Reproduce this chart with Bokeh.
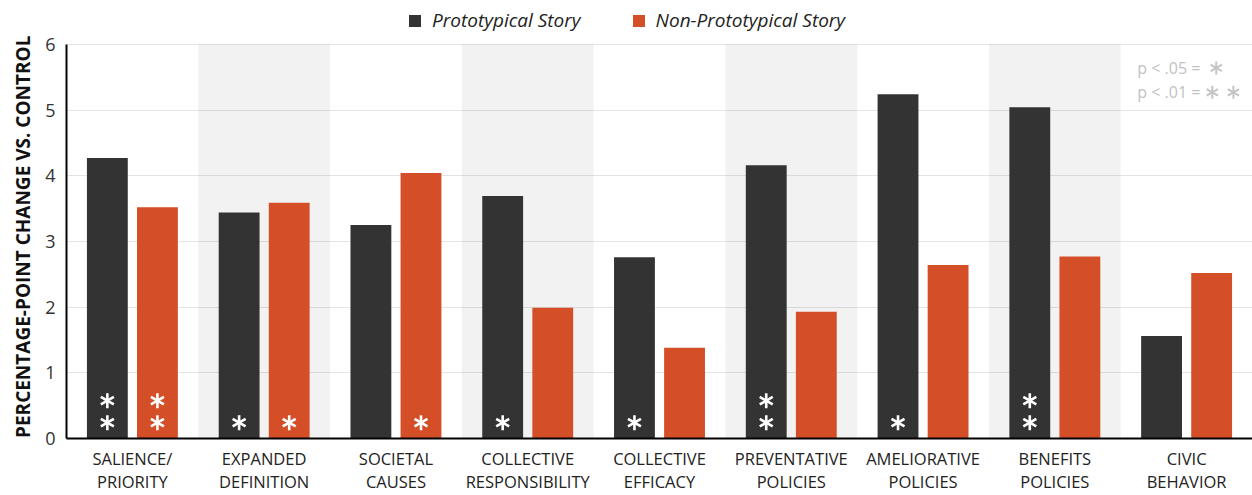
from bokeh.plotting import figure
from bokeh.models import (ColumnDataSource, Range1d, FixedTicker, BoxAnnotation,
                          Legend, LegendItem)
from bokeh.core.properties import value
from bokeh.embed import file_html
from bokeh.resources import INLINE

categories = ["SALIENCE/\nPRIORITY", "EXPANDED\nDEFINITION", "SOCIETAL\nCAUSES",
              "COLLECTIVE\nRESPONSIBILITY", "COLLECTIVE\nEFFICACY", "PREVENTATIVE\nPOLICIES",
              "AMELIORATIVE\nPOLICIES", "BENEFITS\nPOLICIES", "CIVIC\nBEHAVIOR"]
prototypical = [4.27, 3.44, 3.25, 3.69, 2.76, 4.16, 5.24, 5.04, 1.56]
non_prototypical = [3.52, 3.59, 4.04, 1.99, 1.38, 1.93, 2.64, 2.77, 2.52]
sig_proto = ["**", "*", "", "*", "*", "**", "*", "**", ""]
sig_non = ["**", "*", "*", "", "", "", "", "", ""]
y_ticks = [0, 1, 2, 3, 4, 5, 6]
series_names = ["Prototypical Story", "Non-Prototypical Story"]
key_labels = ["p < .05 =", "p < .01 ="]
y_title = "PERCENTAGE-POINT CHANGE VS. CONTROL"

DARK = "#333333"
ORANGE = "#d44f27"
FONT = "Open Sans"

n = len(categories)
xc = [i + 0.5 for i in range(n)]
OFF = 0.19
W = 0.31
Y_MAX = 6
Y_TOP = Y_MAX * 440 / 396   # headroom inside the frame for the legend

p = figure(width=1252, height=495, output_backend="svg", toolbar_location=None,
           x_range=Range1d(0, n), y_range=Range1d(0, Y_TOP),
           min_border_left=66, min_border_right=0, min_border_top=0, min_border_bottom=55)
p.outline_line_color = None
p.background_fill_color = "white"
p.border_fill_color = "white"

# alternating shaded bands
for i in range(1, n, 2):
    p.add_layout(BoxAnnotation(left=i, right=i + 1, bottom=0, top=Y_MAX,
                               fill_color="black", fill_alpha=0.05,
                               line_color=None, level="underlay"))

src = ColumnDataSource(dict(x1=[x - OFF for x in xc], x2=[x + OFF for x in xc],
                            a=prototypical, b=non_prototypical))
r1 = p.vbar(x="x1", top="a", width=W, bottom=0, source=src, fill_color=DARK, line_color=None)
r2 = p.vbar(x="x2", top="b", width=W, bottom=0, source=src, fill_color=ORANGE, line_color=None)

# significance asterisks (6-spoke made from three rotated dashes)
def star_points(sigs, xs):
    px, py = [], []
    for s, x in zip(sigs, xs):
        if len(s) >= 1:
            px.append(x); py.append(0.24)
        if len(s) >= 2:
            px.append(x); py.append(0.575)
    return px, py

def draw_star(px, py, color, size=15, lw=2.6):
    for ang in (90, 30, -30):
        p.scatter(px, py, marker="dash", size=size, angle=ang, angle_units="deg",
                  line_color=color, line_width=lw)

ax, ay = star_points(sig_proto, src.data["x1"])
bx, by = star_points(sig_non, src.data["x2"])
draw_star(ax + bx, ay + by, "white")

# p-value key
p.text(x=[8.126, 8.126], y=[5.64, 5.27], text=key_labels,
       text_font=value(FONT), text_font_size="16px", text_color="#c2c2c2",
       text_baseline="middle", text_align="left")
draw_star([8.725, 8.695, 8.855], [5.64, 5.27, 5.27], "#c4c4c4", size=13, lw=2.0)

# axes
p.xaxis.ticker = FixedTicker(ticks=xc)
p.xaxis.major_label_overrides = {x: c for x, c in zip(xc, categories)}
p.xaxis.major_label_text_font = FONT
p.xaxis.major_label_text_font_size = "16.5px"
p.xaxis.major_label_text_color = "#222222"
p.xaxis.major_label_text_line_height = 1.0
p.xaxis.major_label_standoff = 2
p.xaxis.major_tick_line_color = None
p.xaxis.minor_tick_line_color = None
p.xaxis.axis_line_color = "black"
p.xaxis.axis_line_width = 2

p.yaxis.ticker = FixedTicker(ticks=y_ticks)
p.yaxis.bounds = (0, Y_MAX)
p.yaxis.major_label_text_font = FONT
p.yaxis.major_label_text_font_size = "18px"
p.yaxis.major_label_text_color = "#333333"
p.yaxis.major_label_standoff = 5
p.yaxis.major_tick_line_color = None
p.yaxis.minor_tick_line_color = None
p.yaxis.axis_line_color = "black"
p.yaxis.axis_line_width = 2
# trailing no-break spaces shift the centred title down toward the 0..6 span
p.yaxis.axis_label = y_title + "\u00a0" * 7
p.yaxis.axis_label_text_font = FONT
p.yaxis.axis_label_text_font_style = "bold"
p.yaxis.axis_label_text_font_size = "19px"
p.yaxis.axis_label_text_color = "#111111"
p.yaxis.axis_label_standoff = 6

p.xgrid.grid_line_color = None
p.ygrid.ticker = FixedTicker(ticks=y_ticks)
p.ygrid.grid_line_color = "#e4e4e4"
p.ygrid.grid_line_width = 1

legend = Legend(items=[LegendItem(label=series_names[0], renderers=[r1]),
                       LegendItem(label=series_names[1], renderers=[r2])],
                orientation="horizontal", location=(341, 405),
                glyph_width=15, glyph_height=15, label_standoff=10, spacing=50,
                padding=0, margin=0, border_line_color=None, background_fill_alpha=0,
                label_text_font=FONT, label_text_font_style="italic",
                label_text_font_size="19px", label_text_color="#222222")
p.add_layout(legend, "center")

open("out.html", "w").write(file_html(p, INLINE))
